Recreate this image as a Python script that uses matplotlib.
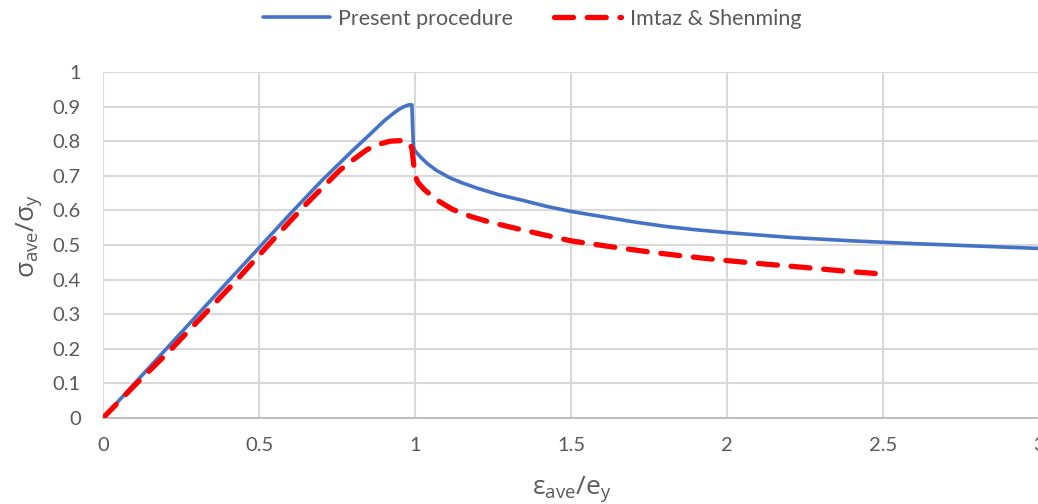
import matplotlib
matplotlib.use("Agg")
import matplotlib.pyplot as plt

# Data
present_x = [0, 0.2, 0.4, 0.6, 0.7, 0.8, 0.85, 0.9, 0.93, 0.95, 0.965, 0.98, 0.99, 0.992, 0.995,
             1.0, 1.02, 1.04, 1.07, 1.11, 1.15, 1.2, 1.27, 1.35, 1.42, 1.5, 1.6, 1.7, 1.8, 1.9,
             2.0, 2.2, 2.4, 2.6, 2.8, 3.0]
present_y = [0, 0.197, 0.394, 0.59, 0.685, 0.773, 0.815, 0.858, 0.880, 0.893, 0.900, 0.905, 0.905, 0.85, 0.785,
             0.772, 0.752, 0.735, 0.715, 0.695, 0.680, 0.664, 0.645, 0.628, 0.612, 0.597, 0.582, 0.567, 0.554, 0.544,
             0.536, 0.522, 0.512, 0.504, 0.497, 0.490]

imtaz_x = [0, 0.1, 0.22, 0.43, 0.5, 0.573, 0.653, 0.76, 0.8, 0.845, 0.88, 0.92, 0.96, 0.98, 0.99, 0.995,
           1.0, 1.01, 1.03, 1.07, 1.12, 1.18, 1.24, 1.3, 1.4, 1.5, 1.62, 1.75, 1.87, 2.0, 2.12,
           2.25, 2.37, 2.5]
imtaz_y = [0, 0.093, 0.2, 0.4, 0.47, 0.543, 0.62, 0.717, 0.745, 0.775, 0.79, 0.80, 0.802, 0.797, 0.78, 0.74,
           0.70, 0.68, 0.66, 0.63, 0.603, 0.582, 0.566, 0.553, 0.532, 0.512, 0.496, 0.48, 0.467, 0.455, 0.445,
           0.435, 0.425, 0.416]

x_ticks = [0, 0.5, 1, 1.5, 2, 2.5, 3]
x_tick_labels = ["0", "0.5", "1", "1.5", "2", "2.5", "3"]
y_ticks = [0, 0.1, 0.2, 0.3, 0.4, 0.5, 0.6, 0.7, 0.8, 0.9, 1.0]
y_tick_labels = ["0", "0.1", "0.2", "0.3", "0.4", "0.5", "0.6", "0.7", "0.8", "0.9", "1"]

plt.rcParams['font.family'] = ['Lato', 'DejaVu Sans']
plt.rcParams['mathtext.fontset'] = 'custom'
plt.rcParams['mathtext.rm'] = 'Open Sans'
plt.rcParams['mathtext.it'] = 'Open Sans'

TXT = '#595959'
GRID = '#d9d9d9'

fig = plt.figure(figsize=(10.38, 5.04), dpi=100)
ax = fig.add_axes([103/1038, 1-418/504, (1039-103)/1038, (418-72)/504])

ax.plot(present_x, present_y, color='#4472c4', lw=2.6, label='Present procedure',
        solid_capstyle='round', solid_joinstyle='round', zorder=3)
ax.plot(imtaz_x, imtaz_y, color='#ff0000', lw=3.8, ls=(0, (3.6, 2.6)), label='Imtaz & Shenming',
        dash_capstyle='round', zorder=4)

ax.set_xlim(0, 3)
ax.set_ylim(0, 1)
ax.set_xticks(x_ticks)
ax.set_xticklabels(x_tick_labels)
ax.set_yticks(y_ticks)
ax.set_yticklabels(y_tick_labels)
ax.tick_params(axis='both', length=0, labelsize=14.5, labelcolor=TXT)
ax.tick_params(axis='x', pad=14)
ax.tick_params(axis='y', pad=16)
ax.grid(True, color=GRID, lw=1.5)
ax.set_axisbelow(True)
for s in ['top', 'right', 'left']:
    ax.spines[s].set_visible(False)
ax.spines['bottom'].set_color('#bfbfbf')
ax.spines['bottom'].set_linewidth(1.5)

ax.set_xlabel(r'$\mathrm{\epsilon_{ave}/e_{y}}$', fontsize=19, color=TXT)
ax.set_ylabel(r'$\mathrm{\sigma_{ave}/\sigma_{y}}$', fontsize=19, color=TXT)
ax.xaxis.set_label_coords((572-103)/(1039-103), -(474-418)/346)
ax.yaxis.set_label_coords(-(103-44)/(1039-103), (418-236)/346)

leg = fig.legend(loc='center', bbox_to_anchor=(532/1038, 1-19/504), ncol=2, frameon=False,
                 fontsize=15.5, handlelength=3.1, columnspacing=1.9, handletextpad=0.4)
for t in leg.get_texts():
    t.set_color(TXT)

fig.savefig('out.png', dpi=100)
